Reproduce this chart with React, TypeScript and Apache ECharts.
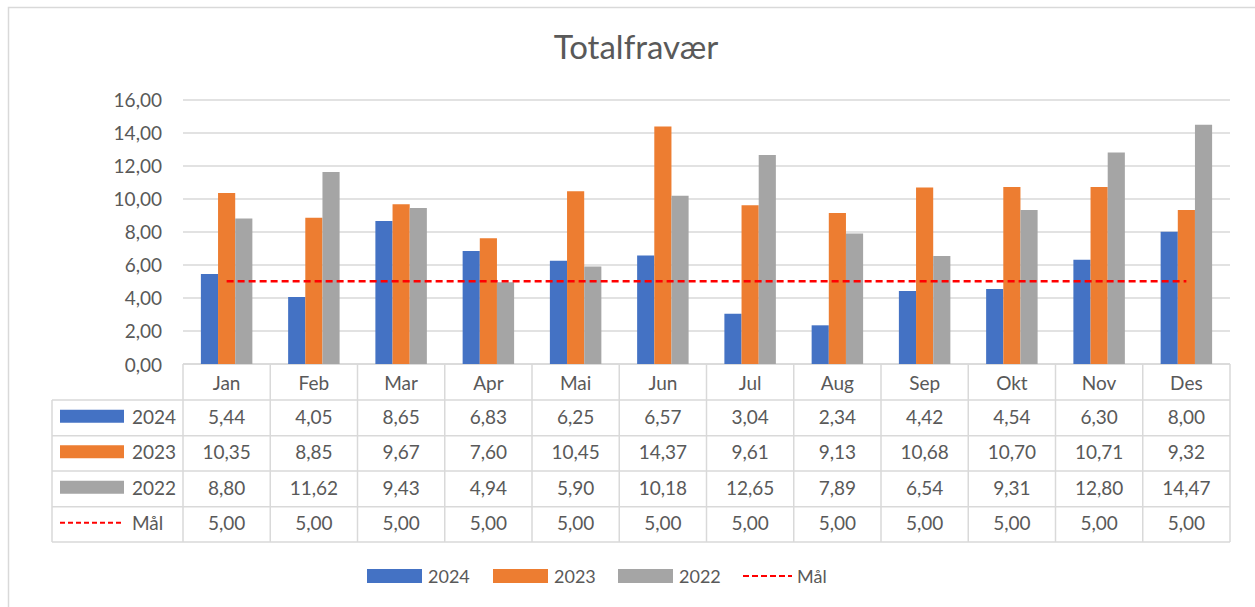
import React, { useEffect, useRef } from "react";
import * as echarts from "echarts";

const months = ["Jan", "Feb", "Mar", "Apr", "Mai", "Jun", "Jul", "Aug", "Sep", "Okt", "Nov", "Des"];
const s2024 = [5.44, 4.05, 8.65, 6.83, 6.25, 6.57, 3.04, 2.34, 4.42, 4.54, 6.3, 8.0];
const s2023 = [10.35, 8.85, 9.67, 7.6, 10.45, 14.37, 9.61, 9.13, 10.68, 10.7, 10.71, 9.32];
const s2022 = [8.8, 11.62, 9.43, 4.94, 5.9, 10.18, 12.65, 7.89, 6.54, 9.31, 12.8, 14.47];
const maal = [5, 5, 5, 5, 5, 5, 5, 5, 5, 5, 5, 5];
const seriesNames = ["2024", "2023", "2022", "Mål"];
const yTicks = { min: 0, max: 16, interval: 2 };

const COLORS = ["#4472c4", "#ed7d31", "#a5a5a5", "#ff0000"];
const TEXT = "#595959";
const LINE = "#d9d9d9";
const FONT = "Lato, 'Open Sans', sans-serif";

const W = 1255;
const H = 607;
const GL = 183;
const GR = 1230;
const GT = 99.5;
const GB = 364;

const LEGEND_X = [367, 493, 618, 743];
const LEGEND_Y = 576;

const fmt = (v: number) => v.toFixed(2).replace(".", ",");

export default function App() {
  const ref = useRef<HTMLDivElement>(null);
  useEffect(() => {
    document.body.style.margin = "0";
    const chart = echarts.init(ref.current!, undefined, { renderer: "svg" });
    const colW = (GR - GL) / months.length;
    const rowTops = [GB, 400, 435.7, 471, 506.7, 542];
    const tableLeft = 52;
    const g: any[] = [];
    g.push({
      type: "rect",
      shape: { x: 8.5, y: 7.5, width: 1400, height: 800 },
      style: { fill: "none", stroke: LINE, lineWidth: 1.5 },
      silent: true,
    });
    g.push({ type: "line", shape: { x1: GL, y1: GB, x2: GR, y2: GB }, style: { stroke: LINE, lineWidth: 1.5 } });
    for (let i = 1; i < rowTops.length; i++) {
      g.push({ type: "line", shape: { x1: tableLeft, y1: rowTops[i], x2: GR, y2: rowTops[i] }, style: { stroke: LINE, lineWidth: 1.5 } });
    }
    for (let c = 0; c <= months.length; c++) {
      const x = GL + c * colW;
      g.push({ type: "line", shape: { x1: x, y1: GB, x2: x, y2: rowTops[5] }, style: { stroke: LINE, lineWidth: 1.5 } });
    }
    g.push({ type: "line", shape: { x1: tableLeft, y1: rowTops[1], x2: tableLeft, y2: rowTops[5] }, style: { stroke: LINE, lineWidth: 1.5 } });
    months.forEach((m, i) => {
      g.push({
        type: "text",
        style: { text: m, x: GL + (i + 0.5) * colW, y: (rowTops[0] + rowTops[1]) / 2, fill: TEXT, font: `19px ${FONT}`, align: "center", verticalAlign: "middle" },
      });
    });
    const rows = [s2024, s2023, s2022, maal];
    rows.forEach((arr, r) => {
      const cy = (rowTops[r + 1] + rowTops[r + 2]) / 2 - 1.5;
      if (r < 3) {
        g.push({ type: "rect", shape: { x: 60, y: cy - 6.5, width: 64, height: 13 }, style: { fill: COLORS[r] } });
      } else {
        g.push({ type: "line", shape: { x1: 60, y1: cy, x2: 124, y2: cy }, style: { stroke: COLORS[3], lineWidth: 2, lineDash: [5, 3] } });
      }
      g.push({
        type: "text",
        style: { text: seriesNames[r], x: 132, y: cy, fill: TEXT, font: `19px ${FONT}`, align: "left", verticalAlign: "middle" },
      });
      arr.forEach((v, i) => {
        g.push({
          type: "text",
          style: { text: fmt(v), x: GL + (i + 0.5) * colW, y: cy, fill: TEXT, font: `19px ${FONT}`, align: "center", verticalAlign: "middle" },
        });
      });
    });

    // bottom legend
    seriesNames.forEach((name, i) => {
      const x = LEGEND_X[i];
      if (i < 3) {
        g.push({ type: "rect", shape: { x, y: LEGEND_Y - 7, width: 55, height: 14 }, style: { fill: COLORS[i] } });
        g.push({
          type: "text",
          style: { text: name, x: x + 61, y: LEGEND_Y, fill: TEXT, font: `18px ${FONT}`, align: "left", verticalAlign: "middle" },
        });
      } else {
        g.push({ type: "line", shape: { x1: x, y1: LEGEND_Y, x2: x + 49, y2: LEGEND_Y }, style: { stroke: COLORS[3], lineWidth: 2.2, lineDash: [6, 3] } });
        g.push({
          type: "text",
          style: { text: name, x: x + 54, y: LEGEND_Y, fill: TEXT, font: `18px ${FONT}`, align: "left", verticalAlign: "middle" },
        });
      }
    });

    const barSeries = [s2024, s2023, s2022].map((d, i) => ({
      name: seriesNames[i],
      type: "bar",
      data: d,
      barGap: "0%",
      barCategoryGap: "41%",
      itemStyle: { color: COLORS[i] },
    }));

    chart.setOption({
      animation: false,
      title: {
        text: "Totalfravær",
        left: 631,
        top: 24,
        textAlign: "center",
        textStyle: { fontFamily: FONT, fontSize: 33, fontWeight: "normal", color: TEXT },
      },
      grid: { left: GL, right: W - GR, top: GT, bottom: H - GB, containLabel: false },
      xAxis: {
        type: "category",
        data: months,
        axisLabel: { show: false },
        axisTick: { show: false },
        axisLine: { show: false },
      },
      yAxis: {
        type: "value",
        min: yTicks.min,
        max: yTicks.max,
        interval: yTicks.interval,
        axisLabel: { formatter: (v: number) => fmt(v), fontFamily: FONT, fontSize: 19, color: TEXT, margin: 21 },
        splitLine: { lineStyle: { color: LINE, width: 1.5 } },
        axisLine: { show: false },
        axisTick: { show: false },
      },
      series: [
        ...barSeries,
        {
          name: "Mål",
          type: "line",
          data: maal,
          symbol: "none",
          z: 5,
          lineStyle: { color: COLORS[3], width: 2.5, type: [7, 4] },
          itemStyle: { color: COLORS[3] },
        },
      ],
      graphic: g,
    });
    return () => chart.dispose();
  }, []);
  return <div ref={ref} style={{ position: "absolute", left: 0, top: 0, width: W, height: H }} />;
}
